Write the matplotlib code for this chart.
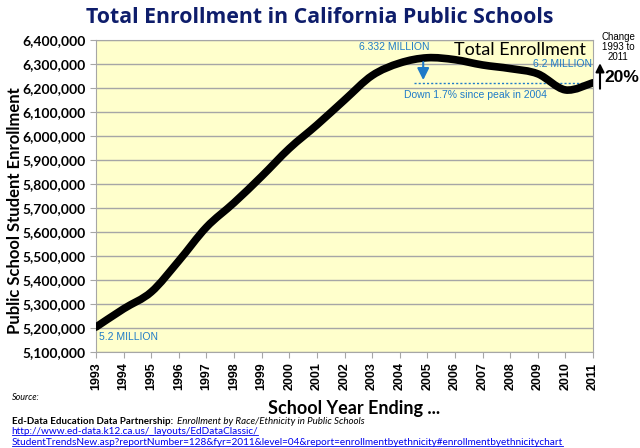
import matplotlib
matplotlib.use("Agg")
import matplotlib.pyplot as plt
from matplotlib.path import Path
from matplotlib.patches import PathPatch
from matplotlib.lines import Line2D
from matplotlib.ticker import FuncFormatter

years = [1993, 1994, 1995, 1996, 1997, 1998, 1999, 2000, 2001, 2002,
         2003, 2004, 2005, 2006, 2007, 2008, 2009, 2010, 2011]
enrollment = [5204000, 5280000, 5350000, 5480000, 5620000, 5722000, 5832000,
              5948000, 6046000, 6150000, 6252000, 6304000, 6326000, 6318000,
              6296000, 6281000, 6259000, 6192000, 6222000]
level_2011 = 6221000
y_ticks = list(range(5100000, 6400001, 100000))

BLUE = "#1F7BC8"
NAVY = "#0E1D6B"
NARROW = "Liberation Sans"

fig = plt.figure(figsize=(6.4, 4.48), dpi=100)
ax = fig.add_axes([0.15, 0.2143, 0.7766, 0.6964])
ax.set_facecolor("#FFFFCC")
ax.set_xlim(years[0], years[-1])
ax.set_ylim(y_ticks[0], y_ticks[-1])
ax.set_yticks(y_ticks)
ax.set_xticks(years)
ax.yaxis.set_major_formatter(FuncFormatter(lambda v, p: f"{int(v):,}"))
ax.grid(axis="y", color="#A6A6A6", linewidth=1.0)
ax.set_axisbelow(True)
for s in ax.spines.values():
    s.set_color("#A6A6A6")
ax.tick_params(axis="both", color="#A6A6A6", length=4)
for lab in ax.get_yticklabels():
    lab.set_fontfamily("Lato")
    lab.set_fontweight("bold")
    lab.set_fontsize(10)
for lab in ax.get_xticklabels():
    lab.set_fontfamily("Liberation Sans")
    lab.set_fontweight("bold")
    lab.set_fontsize(9)
    lab.set_rotation(90)

# smoothed line (Bezier through the data points)
n = len(years)
pts = list(zip(years, enrollment))
verts = [pts[0]]
codes = [Path.MOVETO]
for i in range(n - 1):
    p0 = pts[i - 1] if i > 0 else pts[i]
    p1 = pts[i]
    p2 = pts[i + 1]
    p3 = pts[i + 2] if i + 2 < n else pts[i + 1]
    c1 = (p1[0] + (p2[0] - p0[0]) / 6, p1[1] + (p2[1] - p0[1]) / 6)
    c2 = (p2[0] - (p3[0] - p1[0]) / 6, p2[1] - (p3[1] - p1[1]) / 6)
    verts += [c1, c2, p2]
    codes += [Path.CURVE4] * 3
ax.add_patch(PathPatch(Path(verts, codes), facecolor="none", edgecolor="black",
                       linewidth=5.5, capstyle="round", joinstyle="round", zorder=3))

# annotations inside the plot
ax.text(1993.1, 5185000, "5.2 MILLION", color=BLUE, fontsize=7.5, va="top", ha="left",
        fontfamily=NARROW)
ax.text(2003.8, 6371000, "6.332 MILLION", color=BLUE, fontsize=7.5, va="center",
        ha="center", fontfamily=NARROW)
ax.text(2010.95, 6301000, "6.2 MILLION", color=BLUE, fontsize=7.5, va="center", ha="right",
        fontfamily=NARROW, zorder=4)
ax.text(2008.35, 6339000, "Total Enrollment", color="black", fontsize=13, va="baseline",
        ha="center", fontfamily="Lato")
ax.text(2006.73, 6171000, "Down 1.7% since peak in 2004", color=BLUE, fontsize=7.5,
        va="center", ha="center", fontfamily=NARROW)
ax.plot([2004.5, 2011], [level_2011, level_2011], color=BLUE, linestyle=(0, (1.5, 1.5)),
        linewidth=1, zorder=2)
ax.annotate("", xy=(2004.85, 6233000), xytext=(2004.85, 6308000),
            arrowprops=dict(arrowstyle="-|>,head_width=0.35,head_length=0.7",
                            color=BLUE, lw=1.5, shrinkA=0, shrinkB=0))

# right side change note
fig.text(0.966, 0.895, "Change\n1993 to\n2011", fontsize=7, ha="center", va="center",
         fontfamily=NARROW, linespacing=0.95)
fig.text(0.972, 0.828, "20%", fontsize=12.5, ha="center", va="center",
         fontweight="bold", fontfamily="Liberation Sans")
ax.annotate("", xy=(0.9375, 0.859), xytext=(0.9375, 0.802), xycoords="figure fraction",
            textcoords="figure fraction",
            arrowprops=dict(arrowstyle="-|>,head_width=0.25,head_length=0.5",
                            color="black", lw=1.5, shrinkA=0, shrinkB=0),
            annotation_clip=False)

# titles
fig.text(0.50, 0.962, "Total Enrollment in California Public Schools", fontsize=15.3,
         fontweight="bold", color=NAVY, ha="center", va="center", fontfamily="Open Sans")
fig.text(0.023, 0.53, "Public School Student Enrollment", fontsize=12,
         fontweight="bold", rotation=90, ha="center", va="center", fontfamily="Lato")
fig.text(0.553, 0.089, "School Year Ending ...", fontsize=13, fontweight="bold",
         ha="center", va="center", fontfamily="Lato")

# source block
fig.text(0.018, 0.112, "Source:", fontsize=6.5, style="italic", ha="left", va="center",
         fontfamily="Lato")
t1 = fig.text(0.018, 0.060, "Ed-Data Education Data Partnership:  ", fontsize=7,
              fontweight="bold", ha="left", va="center", fontfamily="Lato")
fig.canvas.draw()
r = fig.canvas.get_renderer()
bb = t1.get_window_extent(r)
fig.text(bb.x1 / 640, 0.060, "Enrollment by Race/Ethnicity in Public Schools", fontsize=7,
         style="italic", ha="left", va="center", fontfamily="Lato")
urls = ["http://www.ed-data.k12.ca.us/_layouts/EdDataClassic/",
        "StudentTrendsNew.asp?reportNumber=128&fyr=2011&level=04&report=enrollmentbyethnicity#enrollmentbyethnicitychart"]
for yy, u in zip([0.036, 0.012], urls):
    t = fig.text(0.018, yy, u, fontsize=7.2, color="#0000EE", ha="left", va="center",
                 fontfamily="Lato")
    b = t.get_window_extent(r)
    fig.add_artist(Line2D([b.x0 / 640, b.x1 / 640], [(b.y0 + 1) / 448] * 2,
                          color="#0000EE", linewidth=0.6))

fig.savefig("out.png", dpi=100)
